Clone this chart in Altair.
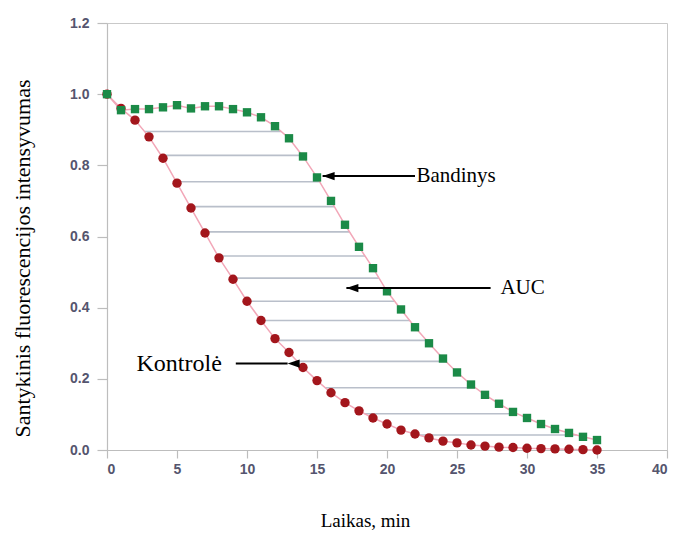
import altair as alt
import numpy as np
import pandas as pd

# Measurement times (min) and relative fluorescence of both series
time_min = list(range(36))
kontrole = [1.0, 0.96, 0.927, 0.88, 0.82, 0.75, 0.68, 0.61, 0.54, 0.48,
            0.418, 0.364, 0.313, 0.274, 0.232, 0.195, 0.161, 0.133, 0.11, 0.09,
            0.073, 0.056, 0.045, 0.034, 0.025, 0.02, 0.014, 0.011, 0.008, 0.007,
            0.005, 0.004, 0.003, 0.002, 0.001, 0.0]
bandinys = [1.0, 0.955, 0.958, 0.958, 0.963, 0.969, 0.96, 0.966, 0.966, 0.958,
            0.949, 0.935, 0.91, 0.876, 0.825, 0.766, 0.70, 0.633, 0.571, 0.511,
            0.446, 0.395, 0.345, 0.30, 0.257, 0.218, 0.184, 0.155, 0.13, 0.107,
            0.09, 0.073, 0.059, 0.048, 0.037, 0.028]

# Levels of the horizontal hatching that fills the area between the curves
hatch_levels = [0.895, 0.828, 0.754, 0.684, 0.613, 0.545, 0.483, 0.418,
                0.364, 0.308, 0.249, 0.175, 0.102, 0.042]

# Annotations: label, arrow tail x, arrow tip x, y, label x, alignment, size
ann_labels = ["Bandinys", "AUC", "Kontrolė"]
ann_tail = [22.0, 27.4, 9.2]
ann_tip = [15.4, 17.1, 12.9]
ann_y = [0.77, 0.455, 0.243]
ann_text_x = [22.1, 28.1, 8.2]
ann_align = ["left", "left", "right"]
ann_size = [21, 21, 24]

x_ticks = list(range(0, 41, 5))
y_ticks = [0.0, 0.2, 0.4, 0.6, 0.8, 1.0, 1.2]

SERIF = "Liberation Serif, Times New Roman, DejaVu Serif, serif"

series = pd.DataFrame({
    "t": time_min * 2,
    "v": kontrole + bandinys,
    "series": ["Kontrolė"] * len(time_min) + ["Bandinys"] * len(time_min),
})

# Hatch segments run from the control curve to the sample curve at each level
t_arr = np.array(time_min, dtype=float)
k_arr = np.array(kontrole)
b_arr = np.array(bandinys)
start = np.interp(hatch_levels, k_arr[::-1], t_arr[::-1])
end = np.interp(hatch_levels, b_arr[9:][::-1], t_arr[9:][::-1])
hatch = pd.DataFrame({"x1": start, "x2": end, "y": hatch_levels})

ann = pd.DataFrame({
    "label": ann_labels, "tail": ann_tail, "tip": ann_tip, "y": ann_y,
    "tx": ann_text_x, "align": ann_align, "size": ann_size,
})

x_scale = alt.Scale(domain=[0, 40], nice=False, zero=False)
y_scale = alt.Scale(domain=[0, 1.2], nice=False)

x_axis = alt.Axis(values=x_ticks, format="d", title="Laikas, min",
                  grid=False, tickSize=8, labelPadding=4,
                  titleX=258, titleY=70, titleAlign="center",
                  titleBaseline="middle", titleFontSize=19)
y_axis = alt.Axis(values=y_ticks, format=".1f",
                  title="Santykinis fluorescencijos intensyvumas",
                  grid=False, tickSize=10, labelPadding=8,
                  titleX=-85, titleY=235, titleAngle=-90,
                  titleAlign="center", titleBaseline="middle",
                  titleFontSize=22)

hatch_layer = alt.Chart(hatch).mark_rule(color="#b9bfca", strokeWidth=1.6).encode(
    x=alt.X("x1:Q", scale=x_scale, axis=x_axis),
    x2="x2:Q",
    y=alt.Y("y:Q", scale=y_scale, axis=y_axis),
)

lines = alt.Chart(series).mark_line(color="#f2a7b8", strokeWidth=1.5).encode(
    x=alt.X("t:Q", scale=x_scale),
    y=alt.Y("v:Q", scale=y_scale),
    detail="series:N",
)

red_points = alt.Chart(series).transform_filter(
    alt.datum.series == "Kontrolė"
).mark_circle(color="#a3161c", size=88, opacity=1).encode(
    x=alt.X("t:Q", scale=x_scale),
    y=alt.Y("v:Q", scale=y_scale),
)

green_points = alt.Chart(series).transform_filter(
    alt.datum.series == "Bandinys"
).mark_square(color="#1b8a47", size=70, opacity=1).encode(
    x=alt.X("t:Q", scale=x_scale),
    y=alt.Y("v:Q", scale=y_scale),
)

arrow_shaft = alt.Chart(ann).mark_rule(color="black", strokeWidth=2).encode(
    x=alt.X("tail:Q", scale=x_scale),
    x2="tip:Q",
    y=alt.Y("y:Q", scale=y_scale),
)

# Left-pointing arrow head anchored at its tip
arrow_head = alt.Chart(ann).mark_point(
    shape="M 0 0 L 1.6 -0.55 L 1.6 0.55 Z", filled=True, color="black",
    size=225, opacity=1,
).encode(
    x=alt.X("tip:Q", scale=x_scale),
    y=alt.Y("y:Q", scale=y_scale),
)

text_left = alt.Chart(ann).transform_filter(alt.datum.align == "left").mark_text(
    align="left", baseline="middle", font=SERIF, color="black",
).encode(
    x=alt.X("tx:Q", scale=x_scale),
    y=alt.Y("y:Q", scale=y_scale),
    text="label:N",
    size=alt.Size("size:Q", scale=None, legend=None),
)

text_right = alt.Chart(ann).transform_filter(alt.datum.align == "right").mark_text(
    align="right", baseline="middle", font=SERIF, color="black",
).encode(
    x=alt.X("tx:Q", scale=x_scale),
    y=alt.Y("y:Q", scale=y_scale),
    text="label:N",
    size=alt.Size("size:Q", scale=None, legend=None),
)

chart = alt.layer(
    hatch_layer, lines, red_points, green_points,
    arrow_shaft, arrow_head, text_left, text_right,
).properties(
    width=560, height=427,
    autosize=alt.AutoSizeParams(type="none"),
    padding={"left": 107, "top": 23, "right": 12, "bottom": 91},
    background="white",
).configure_view(
    stroke="#c9c9c9", strokeWidth=1,
).configure_axis(
    domainColor="#bdbdbd", tickColor="#bdbdbd", domainWidth=1.2, tickWidth=1.2,
    labelFont="Liberation Sans", labelFontSize=14, labelFontWeight="bold",
    labelColor="#55556e",
    titleFont=SERIF, titleFontWeight="normal",
    titleColor="black",
)

chart.save("out.html", embed_options={"renderer": "svg", "actions": False})
